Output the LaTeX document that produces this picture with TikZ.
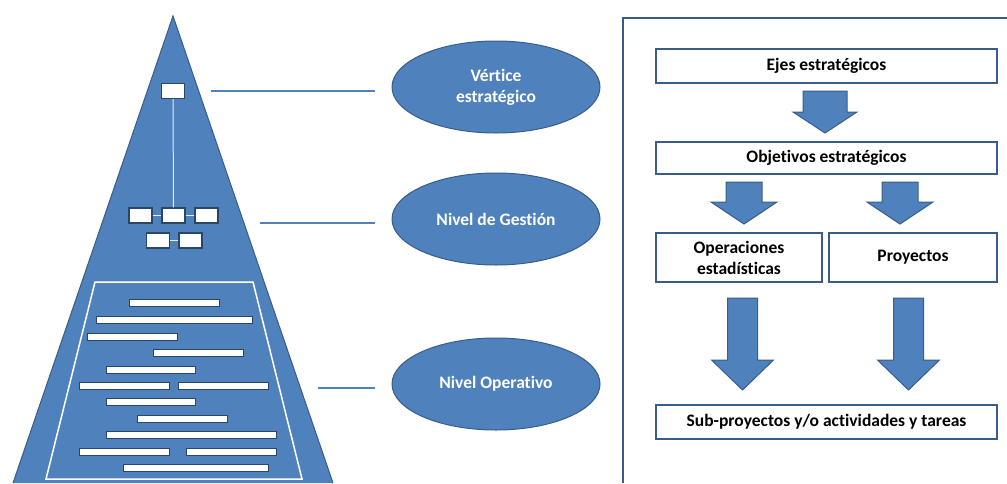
\documentclass[tikz,border=0pt]{standalone}
\usepackage{fontspec}
\setmainfont{Carlito}[Ligatures=CommonOff]
\usetikzlibrary{positioning,shapes.geometric}

\definecolor{azul}{HTML}{4F81BD}
\definecolor{azuloscuro}{HTML}{385D8A}

\tikzset{
  texto/.style={font=\bfseries\fontsize{17.5}{21}\selectfont, align=center},
  caja/.style={texto, draw=azuloscuro, line width=1.5pt, fill=white, inner sep=0pt},
  cajita/.style={draw=azuloscuro!75!black, line width=1.2pt, fill=white, minimum width=23pt, minimum height=15pt, inner sep=0pt},
  barra/.style={draw=azuloscuro!75!black, line width=1pt, fill=white},
  elipse/.style={texto, ellipse, draw=azuloscuro, line width=1pt, fill=azul, text=white, minimum width=208pt, minimum height=92pt, inner sep=0pt},
  guia/.style={draw=azul, line width=1.2pt},
  bloque/.style={fill=azul, draw=azuloscuro, line width=1pt}
}

% centre, top, base of head, tip, half shaft, half head
\newcommand\flecha[6]{\draw[bloque] (#1-#5,#2) -- (#1+#5,#2) -- (#1+#5,#3) -- (#1+#6,#3) -- (#1,#4) -- (#1-#6,#3) -- (#1-#5,#3) -- cycle;}

\begin{document}
\begin{tikzpicture}[x=1pt,y=-1pt]
\useasboundingbox (0,0) rectangle (1007,483);

% pyramid
\fill[azul] (173,16) -- (333,483) -- (13,483) -- cycle;
\draw[azuloscuro, line width=1pt] (13,483) -- (173,16) -- (333,483);
\draw[white, line width=1.5pt] (46,479) -- (95,282) -- (253,282) -- (302,479) -- cycle;

\node[cajita] (v) at (173,91) {};
\node[cajita] (g1) at (140.5,215.5) {};
\node[cajita] (g2) at (173.5,215.5) {};
\node[cajita] (g3) at (206.5,215.5) {};
\node[cajita] (g4) at (158,240.5) {};
\node[cajita] (g5) at (190.5,240.5) {};
\draw[white!85!azul, line width=1pt] (v) -- (g2);
\draw[white!85!azul, line width=1pt] (g1) -- (g2) -- (g3);
\draw[white!85!azul, line width=1pt] (g4) -- (g5);

\draw[barra] (129,299) rectangle (219,306);
\draw[barra] (96,316) rectangle (252,323);
\draw[barra] (87,333) rectangle (177,340);
\draw[barra] (153,349) rectangle (243,356);
\draw[barra] (106,366) rectangle (195,373);
\draw[barra] (79,382) rectangle (169,389);
\draw[barra] (178,382) rectangle (268,389);
\draw[barra] (106,398) rectangle (195,405);
\draw[barra] (137,415) rectangle (227,422);
\draw[barra] (106,431) rectangle (276,438);
\draw[barra] (79,448) rectangle (169,455);
\draw[barra] (186,448) rectangle (276,455);
\draw[barra] (123,464) rectangle (268,471);

% levels
\node[elipse] (vert) at (496,87) {V\'ertice\\estrat\'egico};
\node[elipse] (gest) at (496,219) {Nivel de Gesti\'on};
\node[elipse] (oper) at (496,384) {Nivel Operativo};

\coordinate (l1) at (211,91);
\coordinate (l2) at (260,223);
\coordinate (l3) at (318,388);
\draw[guia, shorten >=17pt] (l1) -- (l1 -| vert.west);
\draw[guia, shorten >=17pt] (l2) -- (l2 -| gest.west);
\draw[guia, shorten >=17pt] (l3) -- (l3 -| oper.west);

% right panel
\draw[azuloscuro, line width=2pt] (623,483) |- (1007,18);

\node[caja, minimum width=341pt, minimum height=34pt] (ejes) at (826.5,66) {Ejes estrat\'egicos};
\node[caja, minimum width=341pt, minimum height=32pt] (obj) at (826.5,158) {Objetivos estrat\'egicos};
\node[caja, minimum width=166pt, minimum height=49pt] (ope) at (739,257.5) {Operaciones\\estad\'isticas};
\node[caja, minimum width=168pt, minimum height=49pt] (proy) at (913,257.5) {Proyectos};
\node[caja, minimum width=341pt, minimum height=34pt] (sub) at (826.5,422) {Sub-proyectos y/o actividades y tareas};

\flecha{825}{91}{112}{133}{22}{32}
\flecha{744}{182}{202}{224}{18}{33}
\flecha{900}{182}{202}{224}{18}{33}
\flecha{742.5}{298}{360}{390}{15}{31}
\flecha{908.5}{298}{360}{390}{15}{31}

\end{tikzpicture}
\end{document}
